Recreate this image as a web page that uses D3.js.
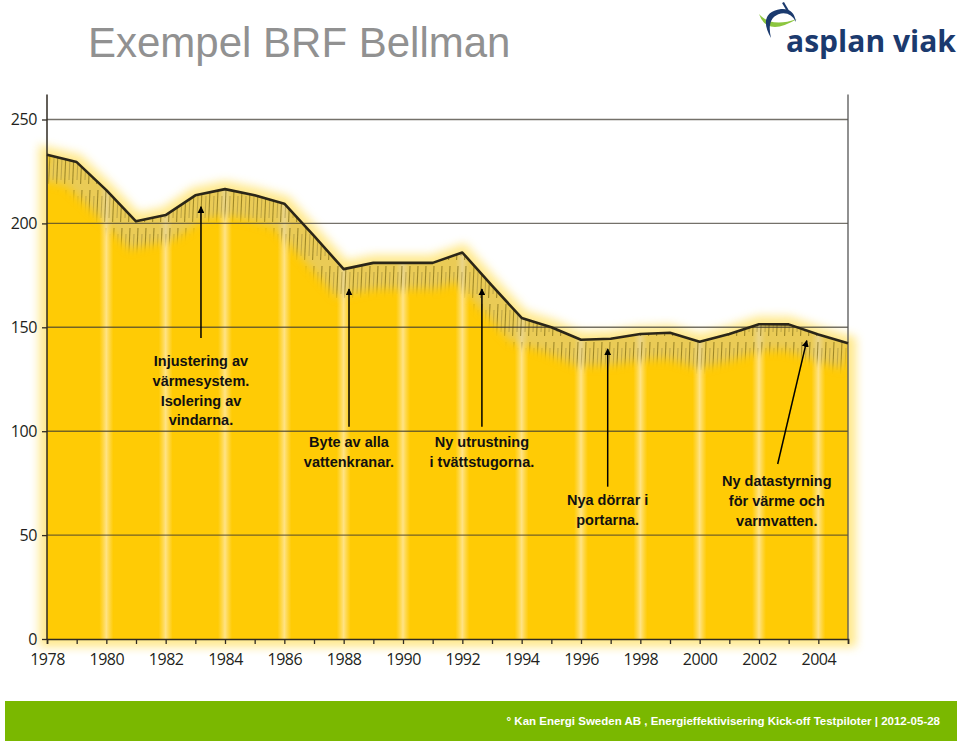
<!DOCTYPE html>
<html><head><meta charset="utf-8">
<script src="https://cdn.jsdelivr.net/npm/d3@7"></script>
<style>body{margin:0;background:#fff}svg{display:block}</style>
</head><body>
<svg id="chart" width="960" height="741"></svg>
<script>
// ---------------- data ----------------
const years  = [1978,1979,1980,1981,1982,1983,1984,1985,1986,1987,1988,1989,1990,1991,
                1992,1993,1994,1995,1996,1997,1998,1999,2000,2001,2002,2003,2004,2005];
const values = [233,229.5,216,201,204,213.5,216.5,213.5,209.5,194,178,181,181,181,
                186,170,154.5,150,144,144.5,146.8,147.4,143.1,146.8,151.5,151.4,146.5,142.3];
const yTicks = [0,50,100,150,200,250];
const xLabelYears = [1978,1980,1982,1984,1986,1988,1990,1992,1994,1996,1998,2000,2002,2004];
const noteTexts = [
  ["Injustering av","värmesystem.","Isolering av","vindarna."],
  ["Byte av alla","vattenkranar."],
  ["Ny utrustning","i tvättstugorna."],
  ["Nya dörrar i","portarna."],
  ["Ny datastyrning","för värme och","varmvatten."]
];
// anchors in data units: text centre year, first baseline value, arrow start, arrow tip
const noteAnchors = [
  {tx:1983.19, ty:131.4, from:[1983.19,144.9], to:[1983.19,208]},
  {tx:1988.18, ty:92.5,  from:[1988.18,102.2], to:[1988.18,168.4]},
  {tx:1992.66, ty:92.5,  from:[1992.66,102.2], to:[1992.66,168.4]},
  {tx:1996.9,  ty:64.5,  from:[1996.9,73.3],   to:[1996.9,139.6]},
  {tx:2002.6,  ty:73.6,  from:[2002.63,84.2],  to:[2003.61,143.6]}
];
const titleText = "Exempel BRF Bellman";
const logoText = "asplan viak";
const footerText = "° Kan Energi Sweden AB , Energieffektivisering Kick-off Testpiloter | 2012-05-28";

// ---------------- drawing ----------------
const data = years.map((yr,i)=>({year:yr,value:values[i]}));
const svg = d3.select("#chart");
const x = d3.scaleLinear().domain([1978,2005]).range([47,848]);
const y = d3.scaleLinear().domain([0,250]).range([639,119.5]);

const defs = svg.append("defs");
const blur = defs.append("filter").attr("id","glow").attr("filterUnits","userSpaceOnUse")
  .attr("x",0).attr("y",0).attr("width",960).attr("height",741);
blur.append("feGaussianBlur").attr("stdDeviation",5);
const blur2 = defs.append("filter").attr("id","soft").attr("filterUnits","userSpaceOnUse")
  .attr("x",0).attr("y",0).attr("width",960).attr("height",741);
blur2.append("feGaussianBlur").attr("stdDeviation",4);

const area = d3.area().x(d=>x(d.year)).y0(y(0)).y1(d=>y(d.value));
const line = d3.line().x(d=>x(d.year)).y(d=>y(d.value));

defs.append("clipPath").attr("id","areaClip").append("path").attr("d",area(data));

// stripe gradient
const sg = defs.append("linearGradient").attr("id","stripe").attr("x1","0").attr("x2","1").attr("y1","0").attr("y2","0");
sg.append("stop").attr("offset","0").attr("stop-color","#FFE48A").attr("stop-opacity",0);
sg.append("stop").attr("offset","0.5").attr("stop-color","#FFE9A6").attr("stop-opacity",0.8);
sg.append("stop").attr("offset","1").attr("stop-color","#FFE48A").attr("stop-opacity",0);

// hatch pattern
const pat = defs.append("pattern").attr("id","hatch").attr("patternUnits","userSpaceOnUse")
  .attr("width",8).attr("height",38);
pat.append("path").attr("d","M2,0 L0.6,32").attr("stroke","#7d6914").attr("stroke-width",1.1).attr("opacity",0.7);
pat.append("path").attr("d","M6,6 L5,28").attr("stroke","#9c8838").attr("stroke-width",1.1).attr("opacity",0.55);

// band mask
const mask = defs.append("mask").attr("id","bandMask").attr("maskUnits","userSpaceOnUse")
  .attr("x",0).attr("y",0).attr("width",960).attr("height",741);
mask.append("path").attr("d",line(data)).attr("transform","translate(0,6)")
  .attr("fill","none").attr("stroke","#fff").attr("stroke-width",40).attr("filter","url(#soft)");

// glow
svg.append("path").attr("d",area(data)).attr("fill","#FFE680").attr("stroke","#FFE680")
  .attr("stroke-width",16).attr("filter","url(#glow)").attr("opacity",0.9);
// area
svg.append("path").attr("d",area(data)).attr("fill","#FFCB05");

// stripes
const stripeYears = years.filter(v=>v%2===0 && v>1978 && v<2005);
svg.append("g").attr("clip-path","url(#areaClip)").selectAll("rect").data(stripeYears).join("rect")
  .attr("x",d=>x(d)-7).attr("width",14).attr("y",y(260)).attr("height",y(0)-y(260))
  .attr("fill","url(#stripe)");

// hatched band
const band = svg.append("g").attr("clip-path","url(#areaClip)")
  .append("g").attr("mask","url(#bandMask)");
band.append("rect").attr("x",0).attr("y",0).attr("width",960).attr("height",741).attr("fill","#DCCB8C").attr("opacity",0.6);
band.append("rect").attr("x",0).attr("y",0).attr("width",960).attr("height",741).attr("fill","url(#hatch)");

// gridlines
svg.append("g").selectAll("line").data(yTicks.filter(t=>t>0)).join("line")
  .attr("x1",x(1978)).attr("x2",x(2005)).attr("y1",d=>y(d)).attr("y2",d=>y(d))
  .attr("stroke","#3f3a30").attr("stroke-opacity",0.72).attr("stroke-width",1.4);

// vertical frame lines
svg.append("line").attr("x1",x(1978)).attr("x2",x(1978)).attr("y1",y(0)).attr("y2",y(262))
  .attr("stroke","#2f2a22").attr("stroke-width",1.5);
svg.append("line").attr("x1",x(2005)).attr("x2",x(2005)).attr("y1",y(0)).attr("y2",y(262))
  .attr("stroke","#555").attr("stroke-width",1.3);

// y axis
const yAx = svg.append("g").attr("transform",`translate(${x(1978)},0)`)
  .call(d3.axisLeft(y).tickValues(yTicks).tickSize(5).tickPadding(5));
yAx.select(".domain").remove();
yAx.selectAll("line").attr("stroke","#2f2a22").attr("stroke-width",1.3);
yAx.selectAll("text").attr("font-family","'Open Sans', sans-serif").attr("font-size",16)
  .attr("letter-spacing","-0.4").attr("fill","#231f20");

// x axis
const xAx = svg.append("g").attr("transform",`translate(0,${y(0)})`)
  .call(d3.axisBottom(x).tickValues(years).tickSize(5)
    .tickFormat(d=>xLabelYears.includes(d)?String(d):""));
xAx.select(".domain").attr("stroke","#2f2a22").attr("stroke-width",1.6);
xAx.selectAll("line").attr("stroke","#2f2a22").attr("stroke-width",1.3);
xAx.selectAll("text").attr("y",26).attr("dy",0)
  .attr("font-family","'Open Sans', sans-serif").attr("font-size",16)
  .attr("letter-spacing","-0.5").attr("fill","#231f20");

// data line
svg.append("path").attr("d",line(data)).attr("fill","none").attr("stroke","#2b2618")
  .attr("stroke-width",2.6).attr("stroke-linejoin","round");

// annotations
defs.append("marker").attr("id","arrow").attr("viewBox","0 0 10 10").attr("refX",9).attr("refY",5)
  .attr("markerWidth",7).attr("markerHeight",7).attr("orient","auto-start-reverse")
  .attr("markerUnits","userSpaceOnUse")
  .append("path").attr("d","M0,0 L10,5 L0,10 Z").attr("fill","#000");

const notes = svg.append("g");
noteAnchors.forEach((a,i)=>{
  notes.append("line").attr("x1",x(a.from[0])).attr("y1",y(a.from[1]))
    .attr("x2",x(a.to[0])).attr("y2",y(a.to[1]))
    .attr("stroke","#000").attr("stroke-width",1.5).attr("marker-end","url(#arrow)");
  const t = notes.append("text").attr("text-anchor","middle")
    .attr("font-family","'Liberation Sans', Arial, sans-serif").attr("font-weight","bold")
    .attr("font-size",14.5).attr("fill","#111");
  noteTexts[i].forEach((s,j)=>{
    t.append("tspan").attr("x",x(a.tx)).attr("y",y(a.ty)+j*19.8).text(s);
  });
});

// title
svg.append("text").attr("x",88).attr("y",57).text(titleText)
  .attr("font-family","'Liberation Sans', Arial, sans-serif").attr("font-size",42).attr("fill","#919191");

// logo
const logo = svg.append("g");
logo.append("path").attr("d","M759,14 Q767,37 797,19 Q771,28 759,14 Z").attr("fill","#8cc63f");
logo.append("path").attr("d","M771,38 Q757,13 781,9 Q794,8 796,22 Q791,12 781,13.5 Q766,17 771,38 Z").attr("fill","#1b3a6e");
logo.append("path").attr("d","M783,2.5 L788,11").attr("stroke","#1b3a6e").attr("stroke-width",2.2);
logo.append("text").attr("x",786).attr("y",52).text(logoText)
  .attr("font-family","'Open Sans', sans-serif").attr("font-weight","bold").attr("font-size",31)
  .attr("textLength",170).attr("lengthAdjust","spacingAndGlyphs").attr("fill","#1b3a6e");

// footer
svg.append("rect").attr("x",5).attr("y",701).attr("width",952).attr("height",40).attr("fill","#7ab800");
svg.append("text").attr("x",940).attr("y",725).attr("text-anchor","end").text(footerText)
  .attr("font-family","'Liberation Sans Narrow', 'Liberation Sans', Arial, sans-serif")
  .attr("font-weight","bold").attr("font-size",11.5).attr("fill","#fff");
</script>
</body></html>
